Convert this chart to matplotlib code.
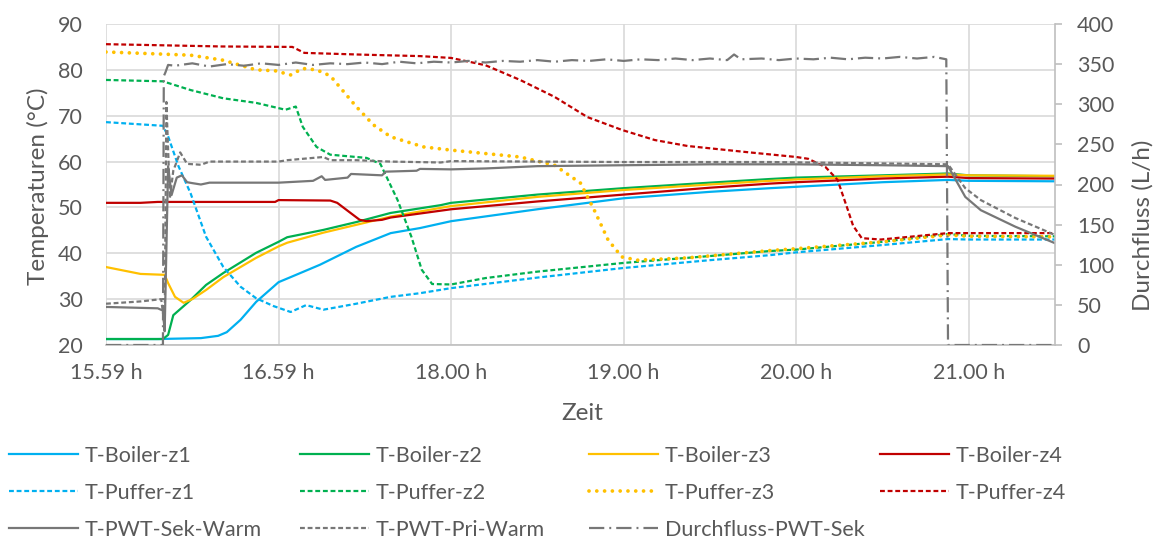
import matplotlib
matplotlib.use("Agg")
import matplotlib.pyplot as plt

plt.rcParams["font.family"] = ["Lato", "DejaVu Sans"]
plt.rcParams["lines.scale_dashes"] = False

TEXT = "#595959"
GRID = "#D9D9D9"
AXIS = "#BFBFBF"
BLUE = "#00B0F0"
GREEN = "#00B050"
YELLOW = "#FFC000"
RED = "#C00000"
GRAY = "#777777"

# x in Stunden ab 15.59 h
tick_pos = [0, 1, 2, 3, 4, 5]
tick_labels = ["15.59 h", "16.59 h", "18.00 h", "19.00 h", "20.00 h", "21.00 h"]

boiler_z1_h = [0, 0.3, 0.55, 0.65, 0.7, 0.78, 0.87, 0.97, 1.0, 1.07, 1.24, 1.45, 1.65,
               1.82, 2.0, 2.5, 3.0, 3.5, 3.85, 4.0, 4.5, 4.88, 5.0, 5.5]
boiler_z1 = [21.3, 21.3, 21.5, 22.0, 22.8, 25.5, 29.4, 32.7, 33.7, 34.8, 37.5, 41.4, 44.4,
             45.5, 47.0, 49.6, 52.0, 53.4, 54.2, 54.5, 55.5, 56.0, 55.8, 55.7]

boiler_z2_h = [0, 0.33, 0.36, 0.39, 0.49, 0.58, 0.68, 0.87, 1.0, 1.05, 1.26, 1.45, 1.65,
               1.94, 2.0, 2.5, 3.0, 3.5, 3.85, 4.0, 4.5, 4.88, 5.0, 5.5]
boiler_z2 = [21.3, 21.3, 22.2, 26.5, 29.8, 33.1, 35.7, 40.1, 42.5, 43.5, 45.1, 46.8, 48.8,
             50.5, 51.0, 52.8, 54.2, 55.4, 56.2, 56.5, 57.0, 57.4, 57.0, 56.8]

boiler_z3_h = [0, 0.2, 0.34, 0.36, 0.4, 0.45, 0.5, 0.58, 0.68, 0.87, 1.0, 1.05, 1.26, 1.45,
               1.65, 2.0, 2.5, 3.0, 3.5, 3.85, 4.0, 4.5, 4.88, 5.0, 5.5]
boiler_z3 = [37.0, 35.5, 35.3, 33.5, 30.5, 29.2, 30.0, 32.0, 34.8, 39.0, 41.5, 42.3, 44.5, 46.2,
             48.0, 50.3, 52.3, 53.8, 55.0, 55.8, 56.1, 56.8, 57.2, 57.0, 56.9]

boiler_z4_h = [0, 0.2, 0.3, 0.98, 1.0, 1.3, 1.34, 1.41, 1.47, 1.51, 1.6, 1.65, 2.0, 2.5,
               3.0, 3.5, 3.85, 4.0, 4.5, 4.88, 5.0, 5.5]
boiler_z4 = [51.0, 51.0, 51.2, 51.2, 51.6, 51.5, 51.0, 49.0, 47.3, 47.0, 47.3, 47.8, 49.6, 51.3,
             52.8, 54.3, 55.2, 55.5, 56.3, 56.7, 56.4, 56.3]

puffer_z1_h = [0, 0.33, 0.36, 0.42, 0.49, 0.58, 0.68, 0.78, 0.87, 0.97, 1.07, 1.16, 1.26, 1.45,
               1.65, 1.82, 2.0, 2.5, 3.0, 3.5, 3.85, 4.0, 4.5, 4.88, 5.0, 5.5]
puffer_z1 = [68.6, 67.8, 65.5, 59.0, 53.1, 43.6, 37.0, 32.7, 30.2, 28.5, 27.2, 28.7, 27.7, 29.0,
             30.5, 31.3, 32.4, 34.7, 36.8, 38.5, 39.6, 40.2, 41.8, 43.1, 43.0, 43.0]

puffer_z2_h = [0, 0.33, 0.49, 0.68, 0.87, 1.04, 1.1, 1.14, 1.22, 1.3, 1.51, 1.59, 1.69, 1.77,
               1.83, 1.89, 2.0, 2.2, 2.5, 3.0, 3.5, 3.85, 4.0, 4.5, 4.88, 5.0, 5.5]
puffer_z2 = [77.8, 77.5, 75.6, 73.8, 72.8, 71.3, 72.0, 67.6, 63.2, 61.5, 60.8, 59.5, 51.6, 43.6,
             36.4, 33.3, 33.2, 34.6, 36.0, 37.9, 39.4, 40.5, 40.8, 42.5, 44.2, 43.8, 43.7]

puffer_z3_h = [0, 0.49, 0.68, 0.87, 0.98, 1.07, 1.14, 1.22, 1.3, 1.45, 1.55, 1.65, 1.84, 2.0,
               2.4, 2.6, 2.75, 2.83, 2.91, 2.99, 3.08, 3.37, 3.85, 4.0, 4.5, 4.88, 5.0, 5.5]
puffer_z3 = [83.9, 83.2, 82.1, 80.0, 79.8, 78.9, 80.3, 80.0, 78.7, 72.0, 68.0, 65.4, 63.2, 62.5,
             61.0, 59.2, 55.3, 49.4, 42.9, 39.2, 38.5, 39.0, 40.6, 41.0, 42.5, 44.0, 43.7, 43.6]

puffer_z4_h = [0, 0.67, 1.08, 1.15, 1.5, 1.82, 2.0, 2.2, 2.4, 2.6, 2.79, 2.99, 3.18, 3.37,
               3.73, 4.0, 4.07, 4.17, 4.24, 4.3, 4.33, 4.38, 4.49, 4.88, 5.0, 5.5]
puffer_z4 = [85.6, 85.1, 85.0, 83.7, 83.3, 83.0, 82.6, 81.0, 77.8, 74.1, 69.7, 66.9, 64.7, 63.4,
             62.0, 61.0, 60.6, 58.8, 56.0, 49.4, 46.0, 43.3, 43.0, 44.4, 44.4, 44.4]

sek_warm_h = [0, 0.3, 0.33, 0.34, 0.36, 0.38, 0.41, 0.44, 0.47, 0.5, 0.55, 0.6, 1.0, 1.1, 1.2,
              1.25, 1.27, 1.4, 1.42, 1.6, 1.62, 1.8, 1.82, 2.0, 2.2, 2.5, 3.0, 3.5, 4.0, 4.5,
              4.88, 4.98, 5.07, 5.27, 5.5]
sek_warm = [28.3, 28.0, 27.5, 23.0, 59.0, 52.7, 56.5, 57.0, 55.5, 55.3, 55.0, 55.4, 55.4, 55.6,
            55.8, 56.8, 56.0, 56.5, 57.3, 57.0, 57.8, 58.0, 58.4, 58.3, 58.5, 59.0, 59.2, 59.4,
            59.4, 59.2, 59.0, 52.3, 49.4, 45.8, 42.2]

pri_warm_h = [0, 0.2, 0.32, 0.34, 0.35, 0.37, 0.39, 0.43, 0.47, 0.55, 0.6, 1.0, 1.05, 1.26,
              1.3, 1.45, 1.65, 1.94, 2.0, 3.0, 3.85, 4.5, 4.88, 4.98, 5.07, 5.27, 5.5]
pri_warm = [29.0, 29.5, 30.0, 24.0, 73.0, 52.0, 58.0, 62.0, 59.5, 59.3, 60.0, 60.0, 60.3, 61.0,
            60.3, 60.3, 60.0, 59.8, 60.1, 59.9, 59.9, 59.6, 59.4, 54.2, 51.6, 47.7, 44.0]

flow_h = [0, 0.33, 0.335, 0.345, 0.36, 0.4, 0.5, 0.6, 0.7, 0.8, 0.9, 1.0, 1.1, 1.2, 1.3, 1.4,
          1.5, 1.6, 1.7, 1.8, 1.9, 2.0, 2.1, 2.2, 2.3, 2.4, 2.5, 2.6, 2.7, 2.8, 2.9, 3.0, 3.1,
          3.2, 3.3, 3.4, 3.5, 3.6, 3.64, 3.68, 3.8, 3.9, 4.0, 4.1, 4.2, 4.3, 4.4, 4.5, 4.6, 4.7,
          4.8, 4.87, 4.88, 5.5]
flow = [0, 0, 335, 340, 349, 348, 351, 347, 350, 348, 351, 349, 352, 349, 351, 350,
        352, 350, 353, 351, 353, 352, 354, 352, 354, 353, 355, 353, 355, 354, 356, 354, 356,
        355, 357, 355, 357, 355, 362, 356, 357, 355, 357, 356, 358, 356, 358, 357, 359, 357,
        359, 356, 0, 0]

DASH = (0, (3.5, 2.0))
DOT = (0, (0.01, 5.6))
DASHDOT = (0, (11.0, 3.6, 1.4, 3.6))

fig = plt.figure(figsize=(11.6, 5.43), dpi=100)
ax = fig.add_axes([106 / 1160, 1 - 345 / 543, 949 / 1160, 321 / 543])
ax2 = ax.twinx()

lw = 1.6
l1, = ax.plot(boiler_z1_h, boiler_z1, color=BLUE, lw=lw, label="T-Boiler-z1")
l2, = ax.plot(boiler_z2_h, boiler_z2, color=GREEN, lw=lw, label="T-Boiler-z2")
l3, = ax.plot(boiler_z3_h, boiler_z3, color=YELLOW, lw=lw, label="T-Boiler-z3")
l4, = ax.plot(boiler_z4_h, boiler_z4, color=RED, lw=lw, label="T-Boiler-z4")
p1, = ax.plot(puffer_z1_h, puffer_z1, color=BLUE, lw=lw, ls=DASH, label="T-Puffer-z1")
p2, = ax.plot(puffer_z2_h, puffer_z2, color=GREEN, lw=lw, ls=DASH, label="T-Puffer-z2")
p3, = ax.plot(puffer_z3_h, puffer_z3, color=YELLOW, lw=2.7, ls=DOT,
              dash_capstyle="round", label="T-Puffer-z3")
p4, = ax.plot(puffer_z4_h, puffer_z4, color=RED, lw=lw, ls=DASH, label="T-Puffer-z4")
s1, = ax.plot(sek_warm_h, sek_warm, color=GRAY, lw=lw, label="T-PWT-Sek-Warm")
s2, = ax.plot(pri_warm_h, pri_warm, color=GRAY, lw=lw, ls=DASH, label="T-PWT-Pri-Warm")
f1, = ax2.plot(flow_h, flow, color=GRAY, lw=lw, ls=DASHDOT, label="Durchfluss-PWT-Sek")

ax.set_xlim(0, 5.5)
ax.set_ylim(20, 90)
ax.set_xticks(tick_pos)
ax.set_xticklabels(tick_labels)
ax.set_yticks(range(20, 91, 10))
ax2.set_ylim(0, 400)
ax2.set_yticks(range(0, 401, 50))

ax.set_axisbelow(True)
ax.grid(True, color=GRID, lw=1.2)
for side in ["top", "left", "right"]:
    ax.spines[side].set_visible(False)
for side in ["top", "left", "bottom"]:
    ax2.spines[side].set_visible(False)
ax.spines["bottom"].set_color(AXIS)
ax.spines["bottom"].set_linewidth(1.2)
ax2.spines["right"].set_color(AXIS)
ax2.spines["right"].set_linewidth(1.2)

FS = 15.5
ax.tick_params(axis="x", length=0, pad=13, labelsize=FS, labelcolor=TEXT)
ax.tick_params(axis="y", length=0, pad=16.5, labelsize=FS, labelcolor=TEXT)
ax2.tick_params(axis="y", length=5, width=1.2, color=AXIS, pad=11,
                labelsize=FS, labelcolor=TEXT)

fig.text(38 / 1160, 1 - 186 / 543, "Temperaturen (°C)", rotation=90,
         ha="center", va="center", fontsize=17.5, color=TEXT)
fig.text(1143 / 1160, 1 - 225 / 543, "Durchfluss (L/h)", rotation=90,
         ha="center", va="center", fontsize=17.5, color=TEXT)
fig.text(582 / 1160, 1 - 413 / 543, "Zeit", ha="center", va="center",
         fontsize=17.5, color=TEXT)

# Legende in vier Spalten unter dem Diagramm
columns = [[l1, p1, s1], [l2, p2, s2], [l3, p3, f1], [l4, p4]]
col_x = [9, 300, 589, 880]
for handles, x in zip(columns, col_x):
    fig.legend(handles=handles, loc="upper left",
               bbox_to_anchor=(x / 1160, 1 - 446 / 543),
               frameon=False, fontsize=FS, labelcolor=TEXT,
               handlelength=3.2, handletextpad=0.33, labelspacing=0.78,
               borderpad=0, borderaxespad=0)

fig.savefig("out.png", dpi=100)
